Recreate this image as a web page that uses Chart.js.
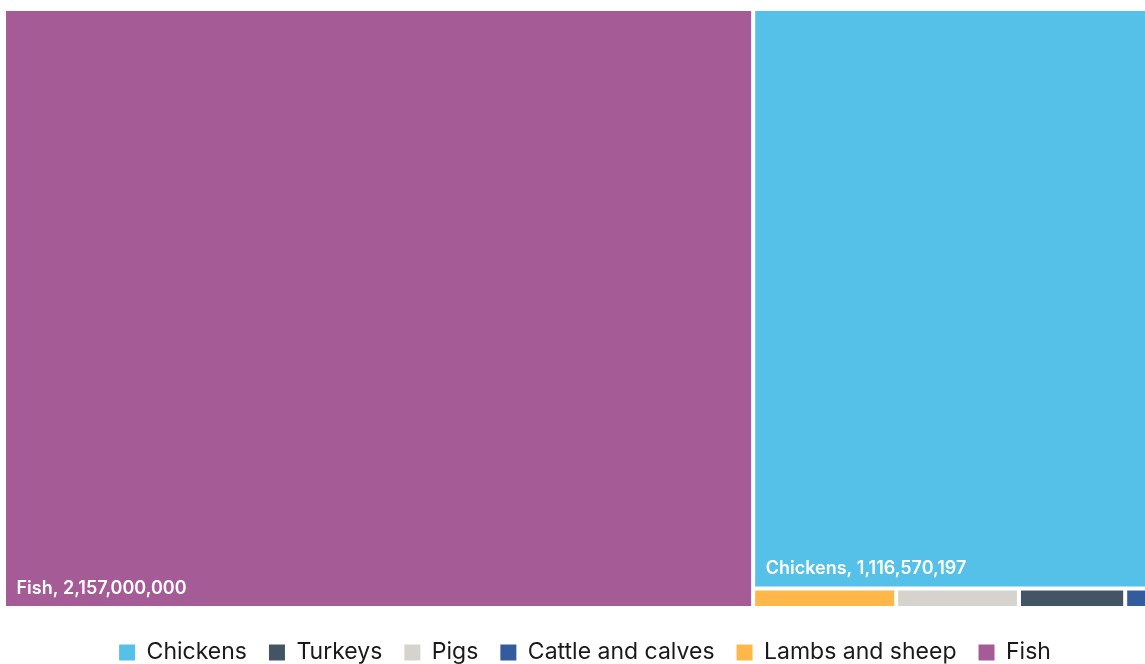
<!DOCTYPE html>
<html><head><meta charset="utf-8">
<script src="https://cdn.jsdelivr.net/npm/chart.js@4.4.1/dist/chart.umd.min.js"></script>
<style>
html,body{margin:0;padding:0;overflow:hidden;background:#fff;width:1145px;height:664px}
#wrap{width:1170px;height:680px;position:relative}
</style>
</head><body>
<div id="wrap"><canvas id="c"></canvas></div>
<script>
// ---- data ----
const categories = ['Chickens', 'Turkeys', 'Pigs', 'Cattle and calves', 'Lambs and sheep', 'Fish'];
const animalsKilled = [1116570197, 9950000, 11500000, 2700000, 13400000, 2157000000];
const colors = ['#56C1E8', '#435565', '#D6D2CD', '#335C9E', '#FFB74A', '#A55B96'];

// ---- squarified treemap layout (pixel-aspect aware, data units out) ----
function squarify(values, W, H) {
  const total = values.reduce((a, b) => a + b, 0);
  const items = values.map((v, i) => ({ i, area: v / total * W * H }))
    .sort((a, b) => b.area - a.area);
  const out = [];
  let rect = { x: 0, y: 0, w: W, h: H };
  let row = [];
  const worst = (r, side) => {
    if (!r.length) return Infinity;
    const s = r.reduce((a, b) => a + b.area, 0);
    const mx = Math.max(...r.map(o => o.area)), mn = Math.min(...r.map(o => o.area));
    return Math.max(side * side * mx / (s * s), (s * s) / (side * side * mn));
  };
  const place = (r) => {
    const s = r.reduce((a, b) => a + b.area, 0);
    if (rect.w >= rect.h) {
      const cw = s / rect.h; let y = rect.y;
      r.forEach(o => { const h = o.area / cw; out.push({ i: o.i, x: rect.x, y, w: cw, h }); y += h; });
      rect = { x: rect.x + cw, y: rect.y, w: rect.w - cw, h: rect.h };
    } else {
      const rh = s / rect.w; let x = rect.x;
      r.forEach(o => { const w = o.area / rh; out.push({ i: o.i, x, y: rect.y, w, h: rh }); x += w; });
      rect = { x: rect.x, y: rect.y + rh, w: rect.w, h: rect.h - rh };
    }
  };
  const rem = items.slice();
  while (rem.length) {
    const side = Math.min(rect.w, rect.h);
    if (!row.length || worst(row.concat([rem[0]]), side) <= worst(row, side)) {
      row.push(rem.shift());
    } else { place(row); row = []; }
  }
  if (row.length) place(row);
  return out.map(o => ({ i: o.i, x0: o.x / W, y0: o.y / H, x1: (o.x + o.w) / W, y1: (o.y + o.h) / H }));
}

const treemapPlugin = {
  id: 'treemapPlugin',
  afterDatasetsDraw(chart) {
    const { ctx, chartArea, scales: { x, y } } = chart;
    const W = chartArea.right - chartArea.left, H = chartArea.bottom - chartArea.top;
    const cells = squarify(animalsKilled, W, H);
    const gap = 2;
    ctx.save();
    cells.forEach(c => {
      const l = x.getPixelForValue(c.x0) + gap, r = x.getPixelForValue(c.x1) - gap;
      const t = y.getPixelForValue(c.y0) + gap, b = y.getPixelForValue(c.y1) - gap;
      ctx.fillStyle = colors[c.i];
      ctx.fillRect(l, t, r - l, b - t);
      if (r - l > 200 && b - t > 40) {
        ctx.fillStyle = '#ffffff';
        ctx.font = '600 18px Inter, "Noto Sans", sans-serif';
        ctx.textBaseline = 'alphabetic';
        ctx.textAlign = 'left';
        ctx.fillText(categories[c.i] + ', ' + animalsKilled[c.i].toLocaleString('en-US'), l + 10.5, b - 12.5);
      }
    });
    ctx.restore();
  }
};

function build() {
  new Chart(document.getElementById('c'), {
    type: 'scatter',
    data: {
      datasets: categories.map((name, i) => ({
        label: name,
        data: [],
        backgroundColor: colors[i],
        borderColor: colors[i]
      }))
    },
    options: {
      responsive: true,
      maintainAspectRatio: false,
      animation: false,
      layout: { padding: { left: 4, top: 9, right: 4, bottom: 6 } },
      scales: {
        x: { type: 'linear', min: 0, max: 1, display: false },
        y: { type: 'linear', min: 0, max: 1, reverse: true, display: false }
      },
      plugins: {
        tooltip: { enabled: false },
        title: { display: true, position: 'bottom', text: ' ', weight: 500, padding: 0,
                 font: { size: 11, lineHeight: 1 } },
        subtitle: { display: true, position: 'right', text: ' ', padding: 0,
                    font: { size: 12, lineHeight: 1 } },
        legend: {
          position: 'bottom',
          labels: {
            boxWidth: 16, boxHeight: 16, padding: 22, color: '#1a1a1a',
            font: { family: 'Inter, "Noto Sans", sans-serif', size: 23 },
            generateLabels: (chart) => categories.map((name, i) => ({
              text: name, fillStyle: colors[i], strokeStyle: colors[i], lineWidth: 0,
              hidden: false, datasetIndex: i, fontColor: '#1a1a1a'
            }))
          }
        }
      }
    },
    plugins: [treemapPlugin]
  });
}
if (document.fonts && document.fonts.load) {
  Promise.all([document.fonts.load('23px Inter'), document.fonts.load('600 18px Inter')]).then(build, build);
} else build();
</script>
</body></html>
